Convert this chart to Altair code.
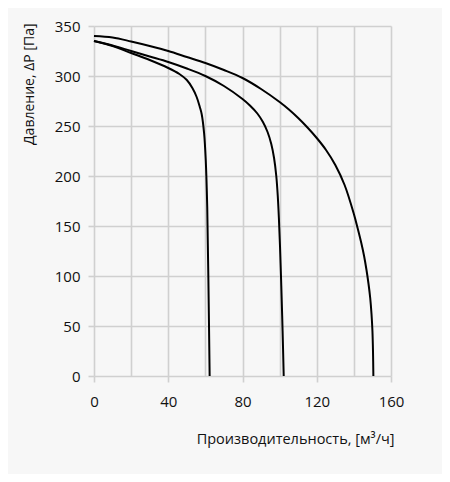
import altair as alt
import pandas as pd

# Curve 1 (~62 m3/h)
q1 = [0, 10, 20, 30, 40, 46, 50, 53, 55.3, 57, 58, 59.3, 60.2, 61, 61.6, 62.3]
p1 = [335, 330, 323, 316, 308, 302, 296, 288, 279, 269, 262, 243, 216, 169, 99, 0]
# Curve 2 (~102 m3/h)
q2 = [0, 10, 20, 30, 40, 50, 60, 70, 80, 84, 88, 91, 93.5, 95.5, 97, 98.2, 99,
      99.6, 100.2, 100.9, 101.6, 102.2]
p2 = [335, 330.5, 325, 319.5, 314, 307.5, 300, 290, 277, 270.5, 262.5, 254, 244,
      232, 218, 200, 180, 158, 130, 90, 45, 0]
# Curve 3 (~150 m3/h)
q3 = [0, 10, 20, 30, 40, 50, 60, 70, 80, 90, 100, 105, 110, 115, 120, 125, 130,
      135, 140, 142, 144, 145.5, 146.8, 147.9, 148.8, 149.5, 150, 150.3, 150.5]
p3 = [340, 338.5, 334.5, 330, 325, 319, 313, 306, 298, 287, 274, 266.5, 258, 248.5,
      238, 226, 211, 191, 162, 148, 133, 120, 106, 92, 78, 62, 45, 25, 0]

x_grid = [0, 20, 40, 60, 80, 100, 120, 140, 160]
y_ticks = [0, 50, 100, 150, 200, 250, 300, 350]

x_title = "Производительность, [м³/ч]"
y_title = "Давление, ΔP [Па]"

rows = []
for name, qs, ps in [("c1", q1, p1), ("c2", q2, p2), ("c3", q3, p3)]:
    for i, (q, p) in enumerate(zip(qs, ps)):
        rows.append({"curve": name, "i": i, "q": q, "p": p})
df = pd.DataFrame(rows)

FONT = "Open Sans"
GRID = "#d0d0d0"

x_axis = alt.Axis(
    values=x_grid,
    grid=True, gridColor=GRID, gridWidth=1.6,
    domain=False,
    ticks=True, tickColor=GRID, tickWidth=1.6, tickSize=6,
    tickOpacity={"condition": {"test": "datum.value % 40 != 0", "value": 0}, "value": 1},
    labelExpr="datum.value % 40 == 0 ? datum.label : ''",
    labelFlush=False,
    labelFont=FONT, labelFontSize=15, labelColor="#111111", labelPadding=12,
    title=x_title, titleFont=FONT, titleFontSize=14.5, titleFontWeight="normal",
    titleColor="#111111", titleX=300, titleY=67, titleAlign="right",
    titleBaseline="alphabetic", titleAnchor="end",
)

y_axis = alt.Axis(
    values=y_ticks,
    grid=True, gridColor=GRID, gridWidth=1.6,
    domain=False,
    ticks=True, tickColor=GRID, tickWidth=1.6, tickSize=6,
    labelFlush=False,
    labelFont=FONT, labelFontSize=15, labelColor="#111111", labelPadding=8,
    title=y_title, titleFont=FONT, titleFontSize=14, titleFontWeight="normal",
    titleColor="#111111", titleAngle=270, titleX=-61, titleY=-3,
    titleAlign="right", titleBaseline="alphabetic",
)

chart = alt.Chart(df).mark_line(
    color="black", strokeWidth=2, interpolate="catmull-rom"
).encode(
    x=alt.X("q:Q", scale=alt.Scale(domain=[0, 160], nice=False), axis=x_axis),
    y=alt.Y("p:Q", scale=alt.Scale(domain=[0, 350], nice=False), axis=y_axis),
    detail="curve:N",
    order="i:Q",
).properties(
    width=297, height=350,
    background="#f7f7f7",
    padding={"left": 86, "top": 18, "right": 51, "bottom": 98},
    autosize=alt.AutoSizeParams(type="none"),
).configure_view(stroke=None)

chart.save("out.html", embed_options={"renderer": "svg", "actions": False})
